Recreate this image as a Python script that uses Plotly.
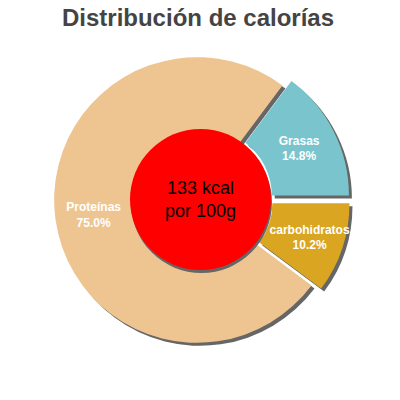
import plotly.graph_objects as go

# calorie split per 100 g
labels = ["Grasas", "carbohidratos", "Proteínas"]
values = [14.8, 10.2, 75.0]
colors = ["#7AC5CD", "#DAA520", "#EEC591"]
pulls = [0.071, 0.071, 0]
kcal = 133

shadow_color = "#666666"
start = 90 - values[0] / sum(values) * 360  # first slice ends at 3 o'clock

dom_x = [0.11, 0.875]
dom_y = [0.1175, 0.8825]
off = 3 / 400  # shadow offset, 3px right and down

fig = go.Figure()

# shadow pie, drawn first so it sits behind
fig.add_trace(go.Pie(
    labels=labels, values=values, sort=False, direction="clockwise",
    rotation=start, pull=pulls, hole=0.46,
    marker=dict(colors=[shadow_color] * len(values), line=dict(width=0)),
    textinfo="none", hoverinfo="skip", showlegend=False,
    domain=dict(x=[dom_x[0] + off, dom_x[1] + off], y=[dom_y[0] - off, dom_y[1] - off]),
))

fig.add_trace(go.Pie(
    labels=labels, values=values, sort=False, direction="clockwise",
    rotation=start, pull=pulls, hole=0.46,
    marker=dict(colors=colors, line=dict(width=0)),
    texttemplate="<b>%{label}<br>%{percent:.1%}</b>",
    textposition="inside", insidetextorientation="horizontal",
    insidetextfont=dict(color="white", size=12, family="Liberation Sans, Arial"),
    hoverinfo="label+percent", showlegend=False,
    domain=dict(x=dom_x, y=dom_y),
))

# red disc in the middle with its shadow
cx, cy, r = 200.5, 199.5, 70.5
fig.add_shape(type="circle", xref="paper", yref="paper", layer="above",
              x0=(cx - r + 1) / 400, x1=(cx + r + 1) / 400,
              y0=1 - (cy + r + 3) / 400, y1=1 - (cy - r + 3) / 400,
              fillcolor=shadow_color, line=dict(width=0))
fig.add_shape(type="circle", xref="paper", yref="paper", layer="above",
              x0=(cx - r) / 400, x1=(cx + r) / 400,
              y0=1 - (cy + r) / 400, y1=1 - (cy - r) / 400,
              fillcolor="red", line=dict(width=0))

fig.add_annotation(
    text=f"{kcal} kcal<br>por 100g", x=cx / 400, y=1 - cy / 400,
    xref="paper", yref="paper", showarrow=False,
    font=dict(size=18, color="black", family="Liberation Sans, Arial"),
)

fig.update_layout(
    width=400, height=400,
    margin=dict(l=0, r=0, t=0, b=0),
    paper_bgcolor="white", plot_bgcolor="white",
    title=dict(text="<b>Distribución de calorías</b>", x=198 / 400, xanchor="center",
               y=1 - 18 / 400, yanchor="middle", yref="container",
               font=dict(size=24, color="#444444", family="Liberation Sans, Arial")),
    uniformtext=dict(mode="show", minsize=12),
)

# drop the default body margin so the figure sits at the page corner
fig.write_html("out.html", config={"displayModeBar": False},
               post_script="document.body.style.margin='0';")
